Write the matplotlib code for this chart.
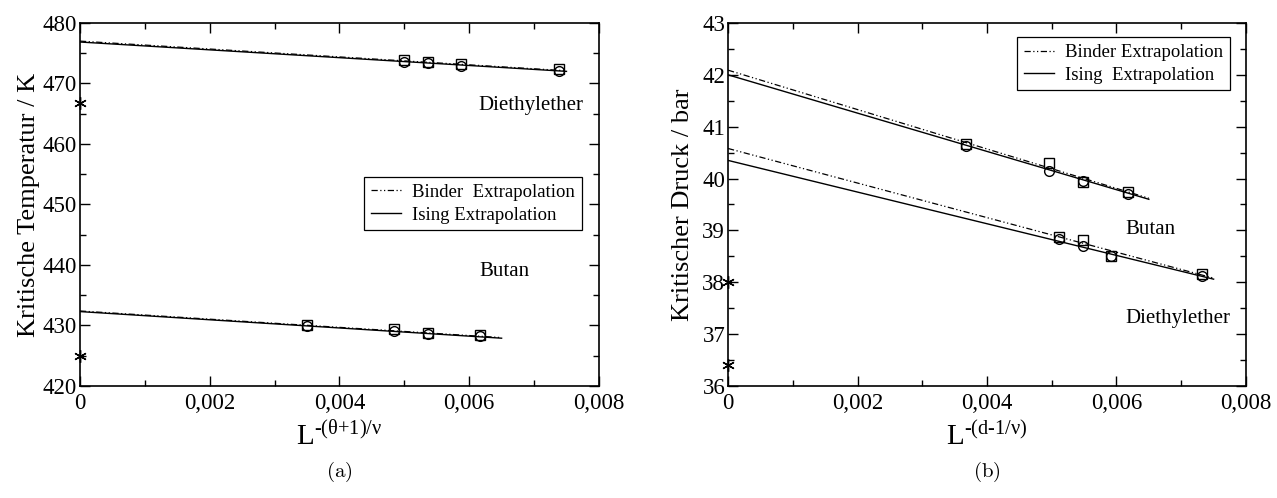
import numpy as np
import matplotlib
matplotlib.use('Agg')
import matplotlib.pyplot as plt
from matplotlib.ticker import MultipleLocator, FuncFormatter

plt.rcParams['font.family'] = ['Liberation Serif', 'DejaVu Serif']
plt.rcParams['mathtext.fontset'] = 'custom'
plt.rcParams['mathtext.rm'] = 'Liberation Serif'
plt.rcParams['mathtext.it'] = 'Liberation Serif:italic'

# --- (a) critical temperature ---
x_dee_T = [0.00500, 0.00537, 0.00587, 0.00739]
binder_dee_T = [473.8, 473.5, 473.2, 472.4]
ising_dee_T = [473.6, 473.3, 472.9, 472.0]
fit_x_dee_T = [0.0, 0.0075]
fit_binder_dee_T = [477.0, 472.1]
fit_ising_dee_T = [476.85, 472.0]

x_but_T = [0.00350, 0.00484, 0.00537, 0.00616]
binder_but_T = [430.05, 429.4, 428.8, 428.4]
ising_but_T = [429.9, 429.1, 428.6, 428.2]
fit_x_but_T = [0.0, 0.0065]
fit_binder_but_T = [432.4, 428.0]
fit_ising_but_T = [432.3, 427.9]

exp_T = [466.7, 425.0]

# --- (b) critical pressure ---
x_but_p = [0.00368, 0.00496, 0.00548, 0.00618]
binder_but_p = [40.67, 40.30, 39.93, 39.75]
ising_but_p = [40.62, 40.14, 39.96, 39.71]
fit_x_but_p = [0.0, 0.0065]
fit_binder_but_p = [42.09, 39.62]
fit_ising_but_p = [42.0, 39.60]

x_dee_p = [0.00511, 0.00548, 0.00592, 0.00732]
binder_dee_p = [38.88, 38.81, 38.50, 38.15]
ising_dee_p = [38.83, 38.70, 38.50, 38.13]
fit_x_dee_p = [0.0, 0.0075]
fit_binder_dee_p = [40.58, 38.08]
fit_ising_dee_p = [40.35, 38.06]

exp_p = [38.0, 36.4]

binder_ls = (0, (5, 2, 1, 2, 1, 2))


def xfmt(v, pos):
    if abs(v) < 1e-12:
        return '0'
    return f'{v:.3f}'.replace('.', ',')


def style_axes(ax, ymaj, ymin):
    ax.xaxis.set_major_locator(MultipleLocator(0.002))
    ax.xaxis.set_minor_locator(MultipleLocator(0.001))
    ax.yaxis.set_major_locator(MultipleLocator(ymaj))
    ax.yaxis.set_minor_locator(MultipleLocator(ymin))
    ax.xaxis.set_major_formatter(FuncFormatter(xfmt))
    ax.yaxis.set_major_formatter(FuncFormatter(lambda v, p: f'{v:g}'))
    ax.tick_params(which='both', direction='in', top=True, right=True, labelsize=16.5, width=1)
    ax.tick_params(which='major', length=7)
    ax.tick_params(which='minor', length=4)
    ax.tick_params(axis='x', pad=5)
    ax.tick_params(axis='y', pad=2)
    for s in ax.spines.values():
        s.set_linewidth(1.2)


def draw_set(ax, x, b, i, fx, fb, fi):
    ax.plot(fx, fb, color='black', lw=0.9, ls=binder_ls)
    ax.plot(fx, fi, color='black', lw=1.0, ls='-')
    ax.plot(x, b, 's', mfc='none', mec='black', ms=6.5, mew=1.0)
    ax.plot(x, i, 'o', mfc='none', mec='black', ms=7, mew=1.0)


fig = plt.figure(figsize=(12.77, 4.98), dpi=100)
ax1 = fig.add_axes([0.0626, 0.2249, 0.4064, 0.729])
ax2 = fig.add_axes([0.5701, 0.2249, 0.4056, 0.729])

# panel (a)
draw_set(ax1, x_dee_T, binder_dee_T, ising_dee_T, fit_x_dee_T, fit_binder_dee_T, fit_ising_dee_T)
draw_set(ax1, x_but_T, binder_but_T, ising_but_T, fit_x_but_T, fit_binder_but_T, fit_ising_but_T)
ax1.plot([0, 0], exp_T, linestyle='none', marker=(6, 2, 0), color='black', ms=9, mew=1.0, clip_on=False)
ax1.set_xlim(0, 0.008)
ax1.set_ylim(420, 480)
style_axes(ax1, 10, 5)
ax1.set_ylabel('Kritische Temperatur / K', fontsize=19, labelpad=2)
ax1.set_xlabel(r'$\mathrm{L}^{\text{-(θ+1)/ν}}$', fontsize=21, labelpad=6)
ax1.text(0.00695, 466.3, 'Diethylether', fontsize=15, ha='center', va='center')
ax1.text(0.00654, 438.9, 'Butan', fontsize=15, ha='center', va='center')
h1 = ax1.plot([], [], color='black', lw=0.9, ls=binder_ls, label='Binder  Extrapolation')[0]
h2 = ax1.plot([], [], color='black', lw=1.0, ls='-', label='Ising Extrapolation')[0]
ax1.legend(handles=[h1, h2], loc='upper left', bbox_to_anchor=(0.548, 0.575), fontsize=13.5,
           frameon=True, fancybox=False, edgecolor='black', framealpha=1, handlelength=1.6,
           handletextpad=0.6, borderpad=0.35, labelspacing=0.3, borderaxespad=0)
ax1.get_legend().get_frame().set_linewidth(0.9)

# panel (b)
draw_set(ax2, x_but_p, binder_but_p, ising_but_p, fit_x_but_p, fit_binder_but_p, fit_ising_but_p)
draw_set(ax2, x_dee_p, binder_dee_p, ising_dee_p, fit_x_dee_p, fit_binder_dee_p, fit_ising_dee_p)
ax2.plot([0, 0], exp_p, linestyle='none', marker=(6, 2, 0), color='black', ms=9, mew=1.0, clip_on=False)
ax2.set_xlim(0, 0.008)
ax2.set_ylim(36, 43)
style_axes(ax2, 1, 0.5)
ax2.set_ylabel('Kritischer Druck / bar', fontsize=19, labelpad=6)
ax2.set_xlabel(r'$\mathrm{L}^{\text{-(d-1/ν)}}$', fontsize=21, labelpad=6)
ax2.text(0.00653, 39.02, 'Butan', fontsize=15, ha='center', va='center')
ax2.text(0.00695, 37.3, 'Diethylether', fontsize=15, ha='center', va='center')
g1 = ax2.plot([], [], color='black', lw=0.9, ls=binder_ls, label='Binder Extrapolation')[0]
g2 = ax2.plot([], [], color='black', lw=1.0, ls='-', label='Ising  Extrapolation')[0]
ax2.legend(handles=[g1, g2], loc='upper left', bbox_to_anchor=(0.558, 0.96), fontsize=13.5,
           frameon=True, fancybox=False, edgecolor='black', framealpha=1, handlelength=1.6,
           handletextpad=0.6, borderpad=0.35, labelspacing=0.3, borderaxespad=0)
ax2.get_legend().get_frame().set_linewidth(0.9)

fig.text(339.5 / 1277, 1 - 472 / 498, r'$\mathrm{(a)}$', math_fontfamily='cm', fontsize=15, ha='center', va='center')
fig.text(987 / 1277, 1 - 472 / 498, r'$\mathrm{(b)}$', math_fontfamily='cm', fontsize=15, ha='center', va='center')

fig.savefig('out.png', dpi=100)
